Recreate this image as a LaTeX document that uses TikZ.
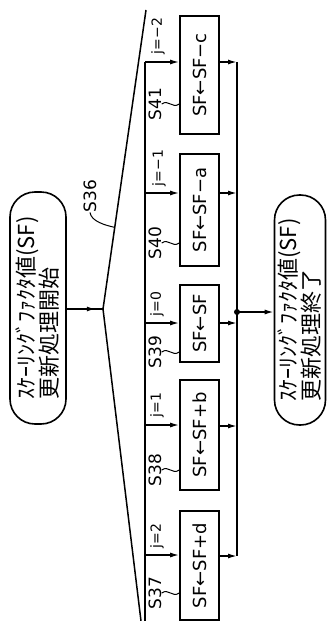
\documentclass[tikz,border=0pt]{standalone}
\usepackage{fontspec}
\setmainfont{DejaVu Sans}
\newfontfamily\jpfont{Noto Sans CJK JP}
\usetikzlibrary{arrows.meta, calc, decorations.markings}

\tikzset{
  flow/.style={line width=1.5pt},
  arr/.style={flow, -{Latex[length=9pt,width=5pt]}},
  midarr/.style={flow, postaction={decorate},
    decoration={markings, mark=at position 0.8 with {\arrow{Latex[length=9pt,width=5pt]}}}},
  stepbox/.style={draw, line width=1.6pt, rotate=90, minimum height=39pt,
    inner sep=0pt, font=\fontsize{18}{20}\selectfont},
  termbox/.style={draw, line width=1.6pt, rotate=90, rounded corners=25pt,
    inner sep=0pt, align=left, font=\jpfont\fontsize{22}{23}\selectfont},
  slabel/.style={rotate=90, inner sep=0pt, font=\fontsize{17}{17}\selectfont},
  jlabel/.style={rotate=90, inner sep=0pt, font=\fontsize{14}{14}\selectfont},
  leader/.style={line width=1pt},
}

\begin{document}
\begin{tikzpicture}[x=1pt, y=-1pt]
  \useasboundingbox (0,0) rectangle (327,621);
  % ---------- start / end ----------
  \node[termbox, minimum width=232pt, minimum height=56pt] (start) at (38,308)
    {ｽｹｰﾘﾝｸﾞﾌｧｸﾀ値(SF)\\更新処理開始};
  \node[termbox, minimum width=230pt, minimum height=51pt] (finish) at (300,310)
    {ｽｹｰﾘﾝｸﾞﾌｧｸﾀ値(SF)\\更新処理終了};
  % ---------- branch symbol ----------
  \coordinate (apex) at (103,309);
  \coordinate (top) at (146,10);
  \coordinate (bot) at (141,621);
  \coordinate (busend) at (145,621);
  \draw[flow] (top) -- (apex) -- (bot);
  \draw[midarr] (start.south |- apex) -- (apex);
  \node[slabel] (l36) at (90,196) {S36};
  \coordinate (d36) at ($(top)!0.727!(apex)$);
  \draw[leader] (l36.west) .. controls +(1,9) and +(-9,-2) .. (d36);
  % ---------- steps ----------
  \node[stepbox, minimum width=118pt] (s41) at (199.5,75) {SF←SF−c};
  \node[stepbox, minimum width=112pt] (s40) at (199.5,210) {SF←SF−a};
  \node[stepbox, minimum width=77pt] (s39) at (199.5,323.5) {SF←SF};
  \node[stepbox, minimum width=110pt] (s38) at (199.5,435) {SF←SF+b};
  \node[stepbox, minimum width=109pt] (s37) at (199.5,565.5) {SF←SF+d};
  % ---------- input side ----------
  \coordinate (j41) at (145,62);
  \coordinate (j40) at (145,193);
  \coordinate (j39) at (145,323);
  \coordinate (j38) at (145,425);
  \coordinate (j37) at (145,555);
  \draw[flow] (j41) -- (busend);
  \draw[arr] (j41) -- (j41 -| s41.north);
  \draw[arr] (j40) -- (j40 -| s40.north);
  \draw[arr] (j39) -- (j39 -| s39.north);
  \draw[arr] (j38) -- (j38 -| s38.north);
  \draw[arr] (j37) -- (j37 -| s37.north);
  \node[jlabel] (c41) at (158,36) {j=−2};
  \node[jlabel] (c40) at (159,168) {j=−1};
  \node[jlabel] (c39) at (157,304) {j=0};
  \node[jlabel] (c38) at (157,405) {j=1};
  \node[jlabel] (c37) at (157,536) {j=2};
  \node[slabel] (l41) at (155,104) {S41};
  \node[slabel] (l40) at (155,243) {S40};
  \node[slabel] (l39) at (155,352) {S39};
  \node[slabel] (l38) at (155,470) {S38};
  \node[slabel] (l37) at (155,593) {S37};
  \draw[leader] (l41.south) .. controls +(7,-5) and +(-7,5) .. (l41.south -| s41.north);
  \draw[leader] (l40.south) .. controls +(7,-5) and +(-7,5) .. (l40.south -| s40.north);
  \draw[leader] (l39.south) .. controls +(7,-5) and +(-7,5) .. (l39.south -| s39.north);
  \draw[leader] (l38.south) .. controls +(7,-5) and +(-7,5) .. (l38.south -| s38.north);
  \draw[leader] (l37.south) .. controls +(7,-5) and +(-7,5) .. (l37.south -| s37.north);
  % ---------- output side ----------
  \coordinate (o41) at (237,62);
  \coordinate (o40) at (237,193);
  \coordinate (o39) at (237,323);
  \coordinate (o38) at (237,426);
  \coordinate (o37) at (237,556);
  \draw[flow] (o41) -- (o37);
  \draw[arr] (o41 -| s41.south) -- (o41);
  \draw[arr] (o40 -| s40.south) -- (o40);
  \draw[arr] (o39 -| s39.south) -- (o39);
  \draw[arr] (o38 -| s38.south) -- (o38);
  \draw[arr] (o37 -| s37.south) -- (o37);
  \coordinate (junc) at (237,312);
  \fill (junc) circle (3);
  \draw[arr] (junc) -- (junc -| finish.north);
\end{tikzpicture}
\end{document}
